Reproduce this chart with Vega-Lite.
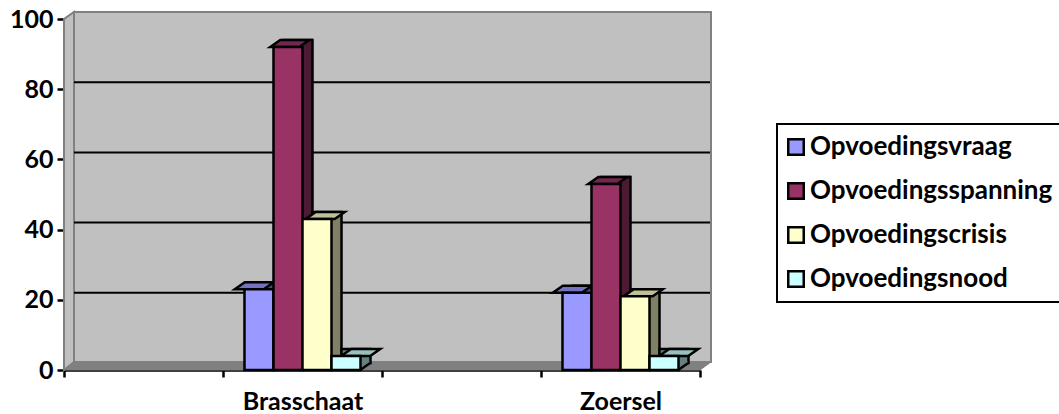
{"$schema":"https://vega.github.io/schema/vega-lite/v6.json","width":636,"height":351,"autosize":"none","padding":{"left":64,"top":19,"right":359,"bottom":44},"background":"white",
"config":{"view":{"stroke":null},"legend":{"strokeWidth":2},"axis":{"labelFont":"Lato","labelFontWeight":"bold","labelFontSize":25,"labelColor":"black","domainColor":"black","tickColor":"black","domainWidth":2.5,"tickWidth":2.5,"grid":false,"title":null}},
"datasets":{"bars":[
{"cat":"Brasschaat","serie":"Opvoedingsvraag","v":23},{"cat":"Brasschaat","serie":"Opvoedingsspanning","v":92},{"cat":"Brasschaat","serie":"Opvoedingscrisis","v":43},{"cat":"Brasschaat","serie":"Opvoedingsnood","v":4},
{"cat":"Zoersel","serie":"Opvoedingsvraag","v":22},{"cat":"Zoersel","serie":"Opvoedingsspanning","v":53},{"cat":"Zoersel","serie":"Opvoedingscrisis","v":21},{"cat":"Zoersel","serie":"Opvoedingsnood","v":4}],
"anchor":[{"base":0}],"grid":[{"g":20},{"g":40},{"g":60},{"g":80}]},
"encoding":{
"x":{"field":"cat","type":"nominal","scale":{"domain":[" ","Brasschaat","  ","Zoersel"],"paddingInner":0,"paddingOuter":0,"round":false},"axis":{"labelAngle":0,"tickBand":"extent","tickSize":7,"labelPadding":12,"title":null}},
"y":{"field":"v","type":"quantitative","scale":{"domain":[0,100],"nice":false},"axis":{"values":[0,20,40,60,80,100],"tickSize":7,"labelPadding":4,"title":null}}
},
"resolve":{"scale":{"fill":"independent","xOffset":"independent"}},
"layer":[
{"data":{"name":"anchor"},"mark":{"type":"point","filled":true,"opacity":1,"size":4,"fill":"#C0C0C0","stroke":"#808080","strokeWidth":2,"shape":"M-69.5,-8 L567.5,-8 L567.5,-358 L-69.5,-358 Z"},"encoding":{"x":{"datum":" "},"y":{"field":"base","type":"quantitative"}}},
{"data":{"name":"anchor"},"mark":{"type":"point","filled":true,"opacity":1,"size":4,"fill":"#C0C0C0","stroke":"#808080","strokeWidth":2,"shape":"M-79.5,0 L-69.5,-8 L-69.5,-358 L-79.5,-351 Z"},"encoding":{"x":{"datum":" "},"y":{"field":"base","type":"quantitative"}}},
{"data":{"name":"anchor"},"mark":{"type":"point","filled":true,"opacity":1,"size":4,"fill":"#808080","stroke":"#808080","strokeWidth":1,"shape":"M-79.5,0 L556.5,0 L567.5,-8 L-69.5,-8 Z"},"encoding":{"x":{"datum":" "},"y":{"field":"base","type":"quantitative"}}},
{"data":{"name":"grid"},"mark":{"type":"rule","color":"black","strokeWidth":2,"xOffset":10,"x2Offset":10,"yOffset":-7},"encoding":{"x":{"value":0},"x2":{"value":636},"y":{"field":"g","type":"quantitative"}}},
{"data":{"name":"bars"},"mark":{"type":"bar","stroke":"black","strokeWidth":2.5,"yOffset":-7,"y2Offset":-7},"encoding":{
"xOffset":{"field":"serie","type":"nominal","sort":null,"scale":{"domain":["Opvoedingsvraag","Opvoedingsspanning","Opvoedingscrisis","Opvoedingsnood"],"paddingInner":0,"paddingOuter":0.741,"align":0.7326,"round":false}},
"y2":{"datum":0},
"fill":{"field":"serie","type":"nominal","legend":null,"scale":{"domain":["Opvoedingsvraag","Opvoedingsspanning","Opvoedingscrisis","Opvoedingsnood"],"range":["#4D4D80","#4D1A33","#808066","#668080"]}}}},
{"data":{"name":"bars"},"mark":{"type":"point","filled":true,"opacity":1,"size":4,"strokeWidth":0,"shape":"M3.5,-1 L3.5,-9 L13.5,-9 L14.5,-7 Z"},"encoding":{
"xOffset":{"field":"serie","type":"nominal","sort":null,"scale":{"domain":["Opvoedingsvraag","Opvoedingsspanning","Opvoedingscrisis","Opvoedingsnood"],"paddingInner":0,"paddingOuter":0.741,"round":false}},
"y":{"datum":0},
"fill":{"field":"serie","type":"nominal","legend":null,"scale":{"domain":["Opvoedingsvraag","Opvoedingsspanning","Opvoedingscrisis","Opvoedingsnood"],"range":["#4D4D80","#4D1A33","#808066","#668080"]}}}},
{"data":{"name":"bars"},"mark":{"type":"point","opacity":1,"size":4,"stroke":"black","strokeWidth":2.5,"fill":"transparent","shape":"M4.5,0 L14.5,-7"},"encoding":{
"xOffset":{"field":"serie","type":"nominal","sort":null,"scale":{"domain":["Opvoedingsvraag","Opvoedingsspanning","Opvoedingscrisis","Opvoedingsnood"],"paddingInner":0,"paddingOuter":0.741,"round":false}},
"y":{"datum":0}}},
{"data":{"name":"bars"},"mark":{"type":"point","filled":true,"opacity":1,"size":4,"stroke":"black","strokeWidth":2.5,"shape":"M-14.5,0 L14.5,0 L24.5,-7 L-4.5,-7 Z"},"encoding":{
"xOffset":{"field":"serie","type":"nominal","sort":null,"scale":{"domain":["Opvoedingsvraag","Opvoedingsspanning","Opvoedingscrisis","Opvoedingsnood"],"paddingInner":0,"paddingOuter":0.741,"round":false}},
"fill":{"field":"serie","type":"nominal","legend":null,"scale":{"domain":["Opvoedingsvraag","Opvoedingsspanning","Opvoedingscrisis","Opvoedingsnood"],"range":["#7373BF","#732650","#BFBF99","#99BFBF"]}}}},
{"data":{"name":"bars"},"mark":{"type":"bar","stroke":"black","strokeWidth":2.5},"encoding":{
"xOffset":{"field":"serie","type":"nominal","sort":null,"scale":{"domain":["Opvoedingsvraag","Opvoedingsspanning","Opvoedingscrisis","Opvoedingsnood"],"paddingInner":0,"paddingOuter":0.741,"round":false}},
"y2":{"datum":0},
"fill":{"field":"serie","type":"nominal","scale":{"domain":["Opvoedingsvraag","Opvoedingsspanning","Opvoedingscrisis","Opvoedingsnood"],"range":["#9999FF","#993366","#FFFFCC","#CCFFFF"]},
"legend":{"title":null,"orient":"none","legendX":713,"legendY":105,"padding":10,"strokeColor":"black","fillColor":"white","symbolType":"square","symbolSize":240,"symbolStrokeColor":"black","symbolStrokeWidth":2.5,"symbolOffset":-4,"labelFont":"Lato","labelFontWeight":"bold","labelFontSize":26,"labelColor":"black","rowPadding":18,"labelOffset":1,"labelLimit":400,"symbolOpacity":1}}}}
]}
